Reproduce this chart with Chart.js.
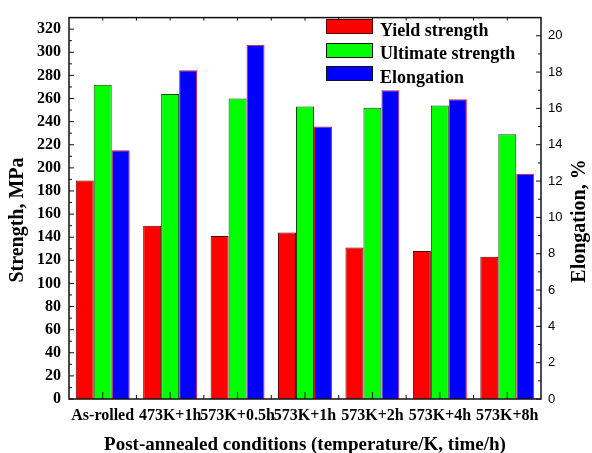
<!DOCTYPE html>
<html><head><meta charset="utf-8">
<script src="https://cdn.jsdelivr.net/npm/chart.js@4"></script>
<style>
html,body{margin:0;padding:0;background:#fff;}
#wrap{position:relative;width:592px;height:453px;overflow:hidden;}
canvas{display:block;}
.box{position:absolute;left:326px;width:45px;height:13px;border:1px solid #222;}
.lab{position:absolute;left:380px;height:15px;line-height:15px;font:bold 18px "Liberation Serif",serif;color:#000;white-space:nowrap;}
</style></head><body>
<div id="wrap"><canvas id="c" width="592" height="453"></canvas><div id="legend"></div></div>
<script>
const categories = ['As-rolled','473K+1h','573K+0.5h','573K+1h','573K+2h','573K+4h','573K+8h'];
const yieldStrength = [189,150,141,144,131,128,123];
const ultimateStrength = [272,264,260,253,252,254,229];
const elongation = [13.7,18.1,19.5,15.0,17.0,16.5,12.4];
const strengthTicks = [0,20,40,60,80,100,120,140,160,180,200,220,240,260,280,300,320];
const elongationTicks = [0,2,4,6,8,10,12,14,16,18,20];
const seriesNames = ['Yield strength','Ultimate strength','Elongation'];
const xTitle = 'Post-annealed conditions (temperature/K, time/h)';
const yTitle = 'Strength, MPa';
const y1Title = 'Elongation, %';

const serifBold = '"Liberation Serif", "Times New Roman", serif';

const framePlugin = {
  id:'frameTicks',
  afterDatasetsDraw(chart){
    const {ctx, chartArea:a, scales} = chart;
    ctx.save();
    ctx.strokeStyle = '#111';
    ctx.lineWidth = 1;
    const line=(x1,y1,x2,y2)=>{ctx.beginPath();ctx.moveTo(x1,y1);ctx.lineTo(x2,y2);ctx.stroke();};
    // left ticks
    const ys = scales.y;
    strengthTicks.forEach((v,i)=>{
      const p = ys.getPixelForValue(v);
      line(a.left, p, a.left+5, p);
      if(i<strengthTicks.length-1){const m=ys.getPixelForValue((v+strengthTicks[i+1])/2); line(a.left,m,a.left+3,m);}
    });
    const y1 = scales.y1;
    elongationTicks.forEach((v,i)=>{
      const p = y1.getPixelForValue(v);
      line(a.right, p, a.right-5, p);
      if(i<elongationTicks.length-1){const m=y1.getPixelForValue((v+elongationTicks[i+1])/2); line(a.right,m,a.right-3,m);}
    });
    const xs = scales.x;
    categories.forEach((c,i)=>{
      const p = xs.getPixelForValue(i);
      line(p, a.bottom, p, a.bottom-7);
      line(p, a.top, p, a.top+3);
      if(i<categories.length-1){
        const m=(p+xs.getPixelForValue(i+1))/2;
        line(m,a.bottom,m,a.bottom-4);
        line(m,a.top,m,a.top+3);
      }
    });
    // frame
    ctx.lineWidth = 1.5;
    ctx.strokeRect(a.left, a.top, a.right-a.left, a.bottom-a.top);
    // titles
    ctx.fillStyle = '#000';
    ctx.font = 'bold 19px ' + serifBold;
    ctx.textAlign = 'center';
    ctx.textBaseline = 'alphabetic';
    ctx.fillText(xTitle, (a.left+a.right)/2, 450);
    ctx.font = 'bold 20px ' + serifBold;
    ctx.textBaseline = 'middle';
    ctx.save(); ctx.translate(18, 220); ctx.rotate(-Math.PI/2); ctx.fillText(yTitle,0,0); ctx.restore();
    ctx.save(); ctx.translate(580, 221); ctx.rotate(-Math.PI/2); ctx.fillText(y1Title,0,0); ctx.restore();
    ctx.restore();
  }
};

const chart = new Chart(document.getElementById('c'), {
  type:'bar',
  data:{ labels: categories, datasets:[
    {label:seriesNames[0], data: yieldStrength, yAxisID:'y', backgroundColor:'#ff0000', borderColor:'#5a0000', borderWidth:1},
    {label:seriesNames[1], data: ultimateStrength, yAxisID:'y', backgroundColor:'#00ff00', borderColor:'#0b4a0b', borderWidth:1},
    {label:seriesNames[2], data: elongation, yAxisID:'y1', backgroundColor:'#0000ff', borderColor:'#e8102a', borderWidth:1}
  ]},
  options:{
    responsive:false, animation:false, devicePixelRatio:1,
    layout:{padding:{top:14,left:0,right:0,bottom:0}},
    plugins:{legend:{display:false}, tooltip:{enabled:false}},
    datasets:{bar:{barPercentage:1, categoryPercentage:0.8}},
    scales:{
      x:{ grid:{display:false, drawTicks:false}, border:{display:false},
          ticks:{autoSkip:false, maxRotation:0, minRotation:0, padding:7, color:'#000', font:{family:serifBold, weight:'bold', size:16}},
          afterFit(s){ s.height=54; } },
      y:{ position:'left', min:0, max:330, grid:{display:false, drawTicks:false}, border:{display:false},
          ticks:{padding:8, color:'#000', font:{family:serifBold, weight:'bold', size:16}},
          afterBuildTicks(s){ s.ticks = strengthTicks.map(v=>({value:v})); },
          afterFit(s){ s.width=69; } },
      y1:{ position:'right', min:0, max:21, grid:{display:false, drawTicks:false}, border:{display:false},
          ticks:{padding:7, color:'#000', font:{family:'"Liberation Sans", Arial, sans-serif', size:13}},
          afterBuildTicks(s){ s.ticks = elongationTicks.map(v=>({value:v})); },
          afterFit(s){ s.width=51; } }
    }
  },
  plugins:[framePlugin]
});

const legendEl = document.getElementById('legend');
const boxBorders = ['#5a0000','#111','#111'];
chart.data.datasets.forEach((ds,i)=>{
  const top = 19 + i*23.5;
  const b = document.createElement('div'); b.className='box';
  b.style.top = top+'px'; b.style.background = ds.backgroundColor; b.style.borderColor = boxBorders[i];
  const t = document.createElement('div'); t.className='lab'; t.style.top = (top+0.5)+'px'; t.textContent = ds.label;
  legendEl.appendChild(b); legendEl.appendChild(t);
});
</script>
</body></html>
